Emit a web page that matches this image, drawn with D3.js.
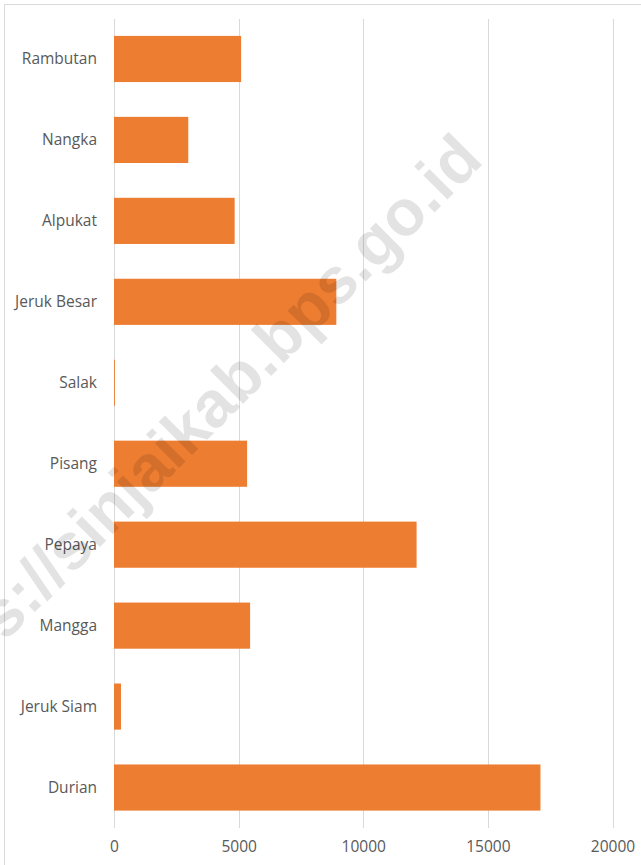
<!DOCTYPE html>
<html>
<head>
<meta charset="utf-8">
<script src="https://cdn.jsdelivr.net/npm/d3@7"></script>
<style>
  body { margin: 0; background: #fff; }
  svg { display: block; }
  .yLabel, .xTick text { font-family: "Open Sans", sans-serif; font-size: 15.5px; fill: #595959; }
</style>
</head>
<body>
<svg id="chart"></svg>
<script>
// data (top to bottom)
var categories = ['Rambutan', 'Nangka', 'Alpukat', 'Jeruk Besar', 'Salak', 'Pisang', 'Pepaya', 'Mangga', 'Jeruk Siam', 'Durian'];
var values = [5100, 2980, 4840, 8920, 35, 5340, 12140, 5460, 280, 17110];
var xTicks = [0, 5000, 10000, 15000, 20000];

var svgWidth = 641;
var svgHeight = 865;

var svg = d3.select('#chart')
    .attr('width', svgWidth)
    .attr('height', svgHeight);

// chart border
svg.append('rect')
    .attr('x', 4.5).attr('y', 4.5)
    .attr('width', svgWidth + 10).attr('height', svgHeight + 10)
    .attr('fill', 'none')
    .attr('stroke', '#d9d9d9');

var xScale = d3.scaleLinear()
    .domain([0, 20000])
    .range([114, 612.5]);

var yScale = d3.scaleBand()
    .domain(categories)
    .range([18.5, 828])
    .paddingInner(0.43)
    .paddingOuter(0.215);

// gridlines
svg.selectAll('.grid')
    .data(xTicks)
    .enter()
    .append('line')
    .attr('class', 'grid')
    .attr('x1', function(d){ return Math.round(xScale(d)) + 0.5; })
    .attr('x2', function(d){ return Math.round(xScale(d)) + 0.5; })
    .attr('y1', 19)
    .attr('y2', 828)
    .attr('stroke', '#d9d9d9')
    .attr('stroke-width', 1);

// bars
svg.selectAll('.bar')
    .data(values)
    .enter()
    .append('rect')
    .attr('class', 'bar')
    .attr('x', xScale(0))
    .attr('y', function(d, i){ return yScale(categories[i]); })
    .attr('width', function(d){ return xScale(d) - xScale(0); })
    .attr('height', yScale.bandwidth())
    .attr('fill', '#ED7D31');

// category labels
svg.selectAll('.yLabel')
    .data(categories)
    .enter()
    .append('text')
    .attr('class', 'yLabel')
    .attr('x', 97)
    .attr('y', function(d){ return yScale(d) + yScale.bandwidth() / 2; })
    .attr('dy', '0.35em')
    .attr('text-anchor', 'end')
    .text(function(d){ return d; });

// x axis labels
var xAxis = d3.axisBottom(xScale)
    .tickValues(xTicks)
    .tickSize(0)
    .tickPadding(0)
    .tickFormat(d3.format('d'));

var gx = svg.append('g')
    .attr('class', 'xTick')
    .attr('transform', 'translate(0,841)')
    .call(xAxis);
gx.select('.domain').remove();
gx.selectAll('text').attr('fill', '#595959').attr('dy', '0.71em');

// watermark
svg.append('text')
    .attr('transform', 'translate(485,162) rotate(-45)')
    .attr('text-anchor', 'end')
    .attr('font-family', '"Liberation Sans", Arial, sans-serif')
    .attr('font-weight', 'bold')
    .attr('font-size', 65)
    .attr('fill', '#000')
    .attr('fill-opacity', 0.11)
    .text('https://sinjaikab.bps.go.id');
</script>
</body>
</html>
